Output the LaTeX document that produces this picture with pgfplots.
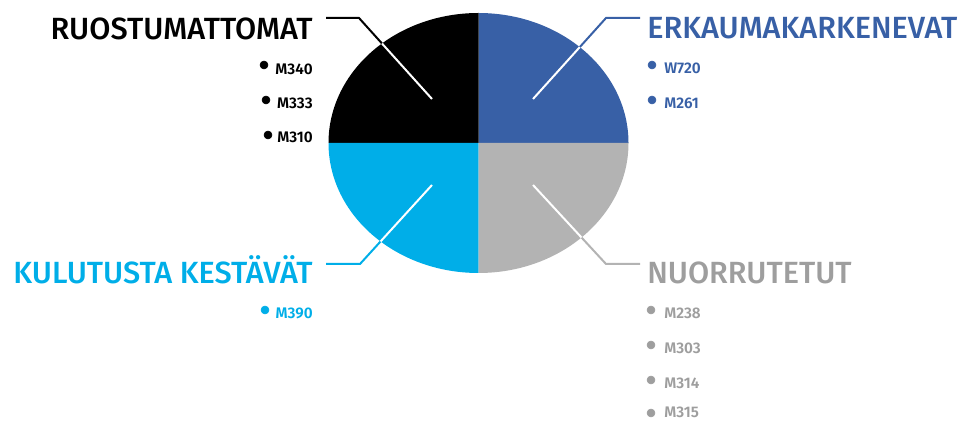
\documentclass[border=0pt]{standalone}
\usepackage{fontspec}
\setmainfont{Fira Sans}
\newfontfamily\titlefont{Fira Sans Medium}
\newfontfamily\itemfont{Fira Sans SemiBold}
\usepackage{pgfplots}
\pgfplotsset{compat=1.18}
\definecolor{cblack}{RGB}{0,0,0}
\definecolor{cblue}{RGB}{56,96,166}
\definecolor{ccyan}{RGB}{0,174,232}
\definecolor{cgray}{RGB}{179,179,179}
\definecolor{cgraytxt}{RGB}{158,158,158}
\begin{document}
\begin{tikzpicture}
\begin{axis}[
  x=0.75pt, y=0.75pt,
  xmin=0, xmax=964, ymin=0, ymax=423,
  y dir=reverse,
  hide axis, clip=false,
]
% leader lines (outer part, slice colour)
\addplot[cblack, line width=1.5pt] coordinates {(326,18) (359,18) (432,99)};
\addplot[cblue, line width=1.5pt] coordinates {(640,18) (606,18) (533,99)};
\addplot[ccyan, line width=1.5pt] coordinates {(326,264) (360,264) (432,185)};
\addplot[cgray, line width=1.5pt] coordinates {(640,264) (606,264) (533,185)};

% four equal slices (25 % each)
\fill[cblue]  (axis cs:478.5,143) -- (axis cs:628.5,143) arc[start angle=0,end angle=90,x radius=112.5pt,y radius=97.5pt] -- cycle;
\fill[cblack] (axis cs:478.5,143) -- (axis cs:478.5,13) arc[start angle=90,end angle=180,x radius=112.5pt,y radius=97.5pt] -- cycle;
\fill[ccyan]  (axis cs:478.5,143) -- (axis cs:328.5,143) arc[start angle=180,end angle=270,x radius=112.5pt,y radius=97.5pt] -- cycle;
\fill[cgray]  (axis cs:478.5,143) -- (axis cs:478.5,273) arc[start angle=270,end angle=360,x radius=112.5pt,y radius=97.5pt] -- cycle;

% leader lines inside the pie in white
\begin{scope}
\clip (axis cs:478.5,143) ellipse [x radius=112.5pt, y radius=97.5pt];
\addplot[white, line width=1.5pt] coordinates {(359,18) (432,99)};
\addplot[white, line width=1.5pt] coordinates {(606,18) (533,99)};
\addplot[white, line width=1.5pt] coordinates {(360,264) (432,185)};
\addplot[white, line width=1.5pt] coordinates {(606,264) (533,185)};
\end{scope}

% headings
\tikzset{head/.style={inner sep=0pt, font=\titlefont\fontsize{23}{24}\selectfont}}
\node[head, anchor=base east, text=cblack] at (axis cs:313,40) {RUOSTUMATTOMAT};
\node[head, anchor=base west, text=cblue] at (axis cs:647,39) {ERKAUMAKARKENEVAT};
\node[head, anchor=base east, text=ccyan] at (axis cs:313,284) {KULUTUSTA KESTÄVÄT};
\node[head, anchor=base west, text=cgraytxt] at (axis cs:647,284) {NUORRUTETUT};

% bullets
\addplot[only marks, mark=*, mark size=3pt, cblack] coordinates {(264,65) (266,100) (268,135)};
\addplot[only marks, mark=*, mark size=3pt, cblue] coordinates {(652,65) (652,100)};
\addplot[only marks, mark=*, mark size=3pt, ccyan] coordinates {(265,310)};
\addplot[only marks, mark=*, mark size=3pt, cgraytxt] coordinates {(651,310) (651,345) (651,380) (651,413)};

% items
\tikzset{item/.style={inner sep=0pt, font=\itemfont\fontsize{11.5}{12}\selectfont}}
\node[item, anchor=base east, text=cblack] at (axis cs:313,75) {M340};
\node[item, anchor=base east, text=cblack] at (axis cs:313,109) {M333};
\node[item, anchor=base east, text=cblack] at (axis cs:313,143) {M310};
\node[item, anchor=base west, text=cblue] at (axis cs:664,74) {W720};
\node[item, anchor=base west, text=cblue] at (axis cs:664,109) {M261};
\node[item, anchor=base east, text=ccyan] at (axis cs:313,319) {M390};
\node[item, anchor=base west, text=cgraytxt] at (axis cs:664,319) {M238};
\node[item, anchor=base west, text=cgraytxt] at (axis cs:664,354) {M303};
\node[item, anchor=base west, text=cgraytxt] at (axis cs:664,389) {M314};
\node[item, anchor=base west, text=cgraytxt] at (axis cs:664,418) {M315};
\end{axis}
\pgfresetboundingbox
\useasboundingbox (0,0) rectangle (723pt,317.25pt);
\end{tikzpicture}
\end{document}
